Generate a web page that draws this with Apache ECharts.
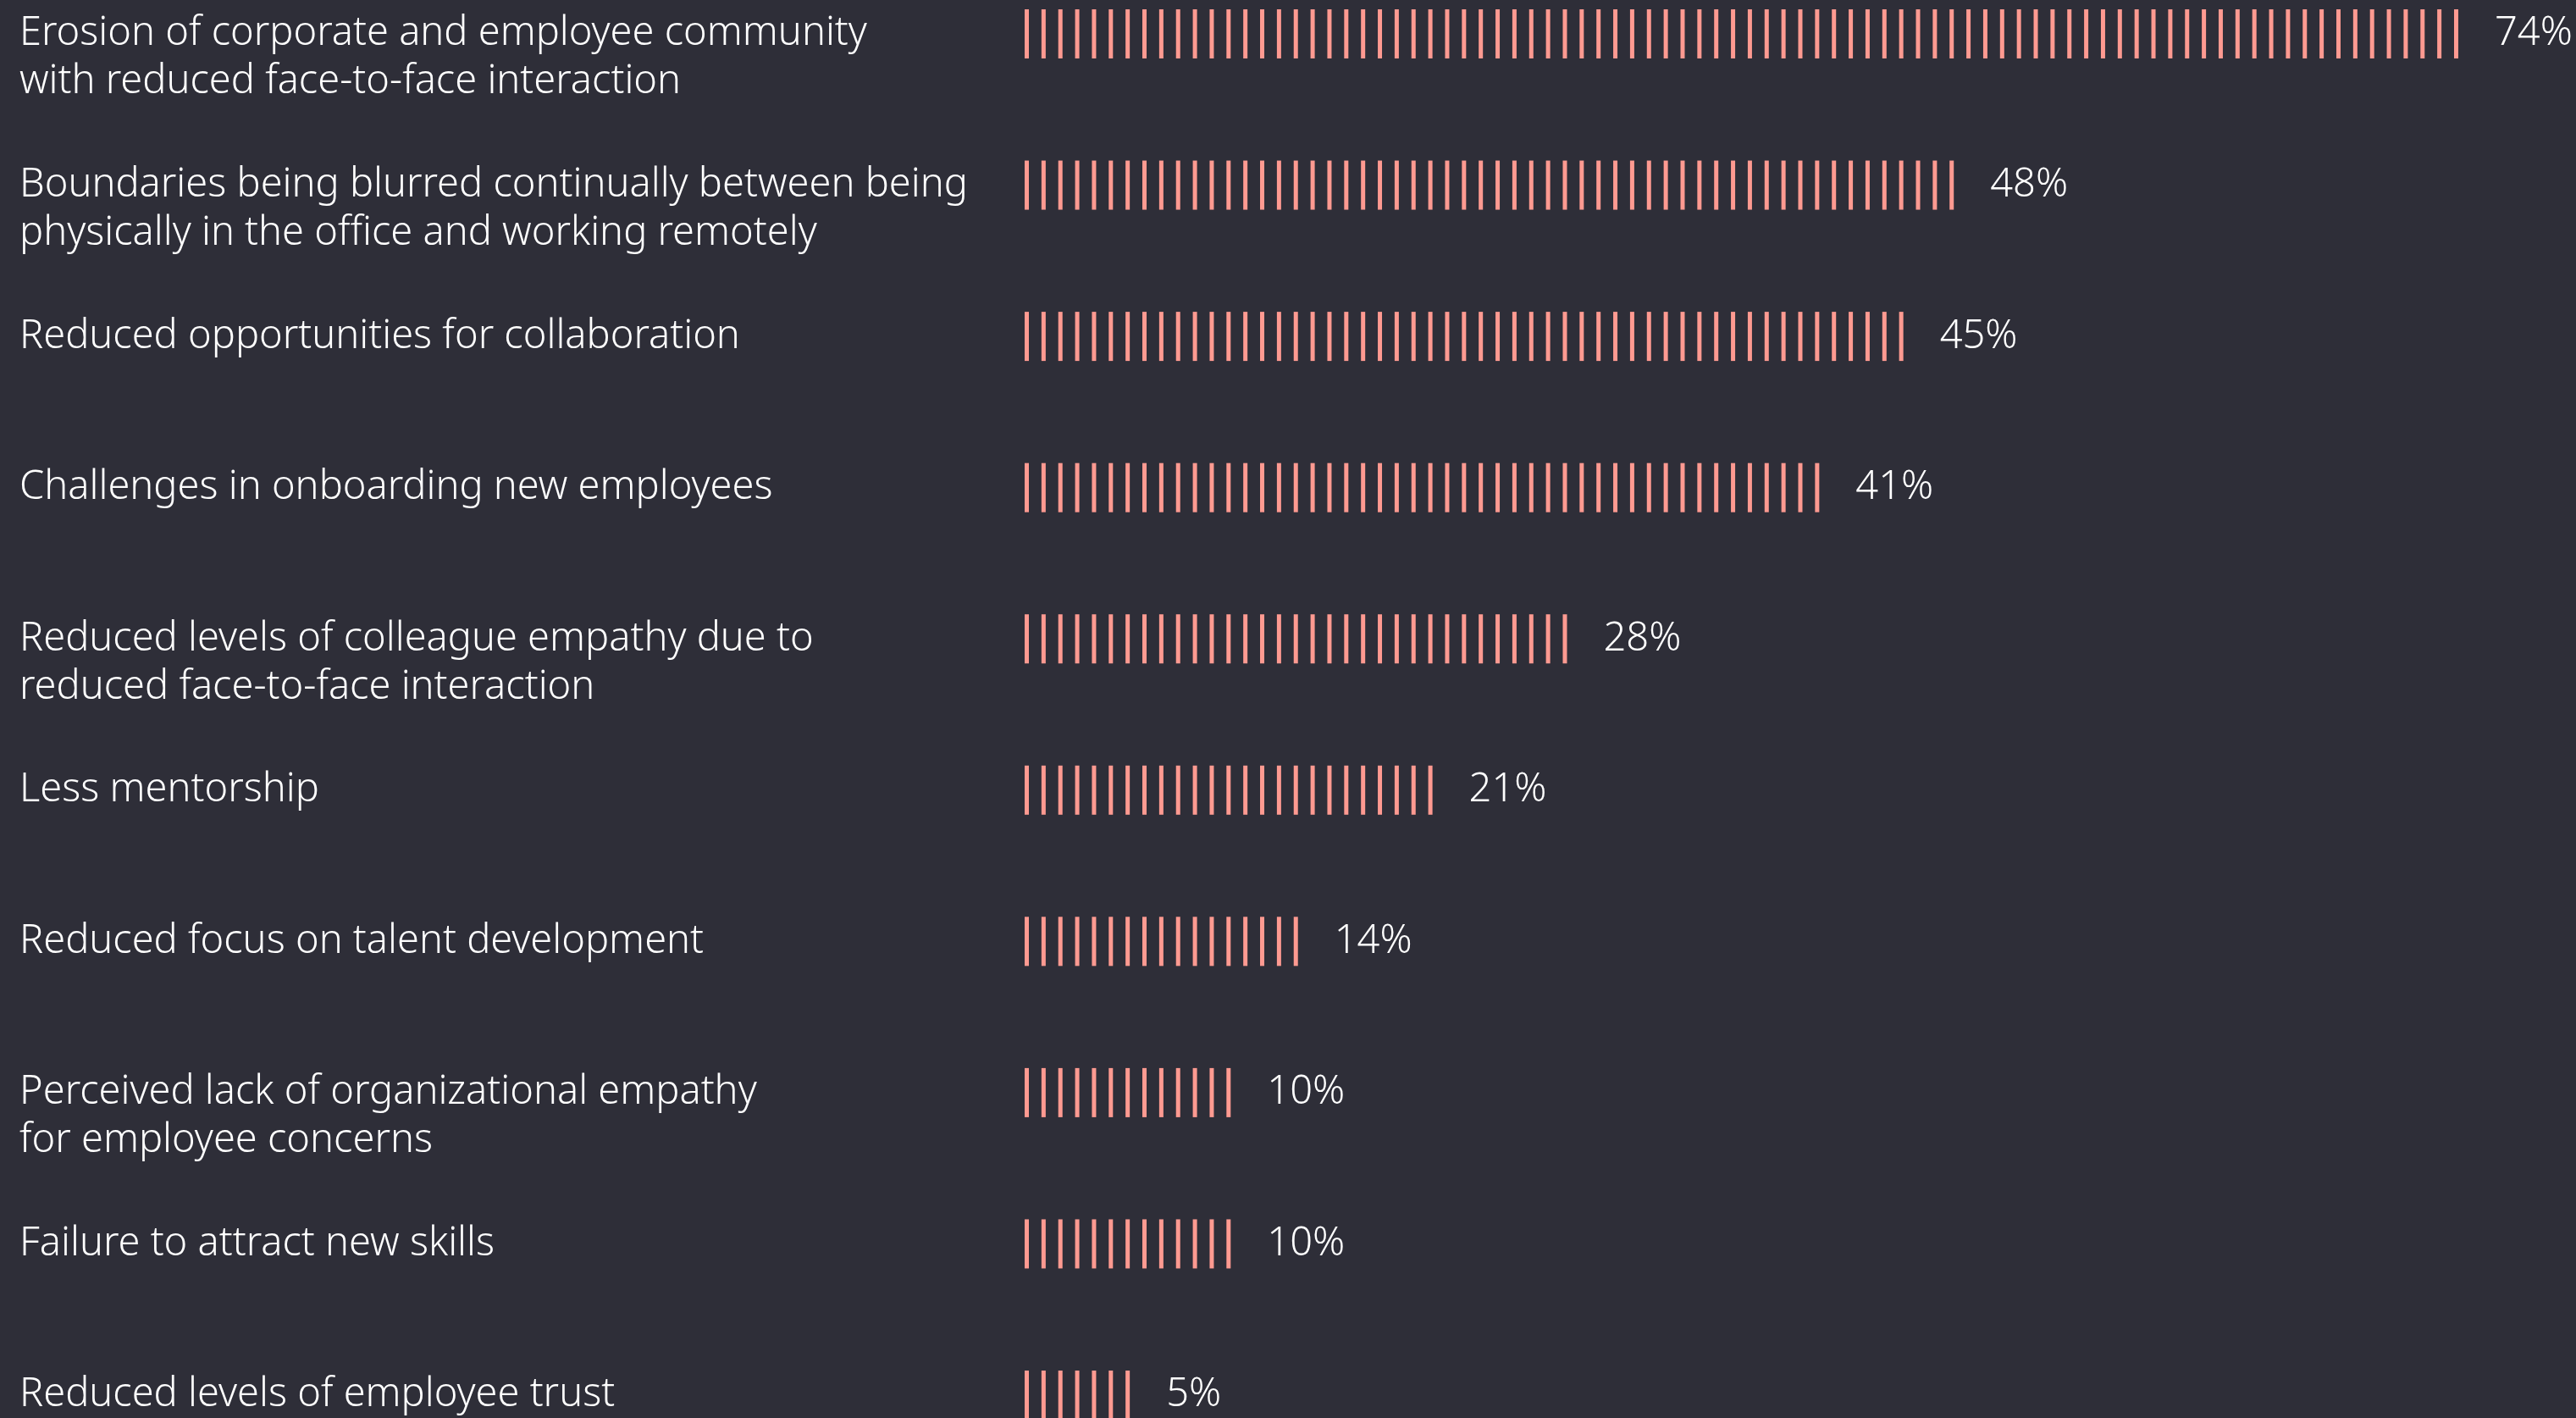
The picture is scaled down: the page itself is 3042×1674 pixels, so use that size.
<!DOCTYPE html>
<html>
<head>
<meta charset="utf-8">
<script src="https://cdn.jsdelivr.net/npm/echarts@6/dist/echarts.min.js"></script>
<style>
  html, body { margin: 0; padding: 0; background: #2E2E38; }
  #chart { width: 3042px; height: 1674px; }
</style>
</head>
<body>
<div id="chart"></div>
<script>
const categories = [
  'Erosion of corporate and employee community\nwith reduced face-to-face interaction',
  'Boundaries being blurred continually between being\nphysically in the office and working remotely',
  'Reduced opportunities for collaboration',
  'Challenges in onboarding new employees',
  'Reduced levels of colleague empathy due to\nreduced face-to-face interaction',
  'Less mentorship',
  'Reduced focus on talent development',
  'Perceived lack of organizational empathy\nfor employee concerns',
  'Failure to attract new skills',
  'Reduced levels of employee trust'
];
const values = [74, 48, 45, 41, 28, 21, 14, 10, 10, 5];

const FONT = '"Noto Sans", sans-serif';
const chart = echarts.init(document.getElementById('chart'), null, { renderer: 'canvas' });
chart.setOption({
  backgroundColor: '#2E2E38',
  animation: false,
  grid: { left: 1210, right: 0, top: 40, bottom: 27, containLabel: false, outerBoundsMode: 'none' },
  xAxis: {
    type: 'value', min: 0, max: 80.5,
    show: false
  },
  yAxis: {
    type: 'category',
    data: categories,
    inverse: true,
    boundaryGap: false,
    axisLine: { show: false },
    axisTick: { show: false },
    splitLine: { show: false },
    axisLabel: {
      align: 'left',
      margin: 1187,
      color: '#FFFFFF',
      fontFamily: FONT,
      fontWeight: 300,
      fontSize: 47,
      lineHeight: 57,
      verticalAlign: 'middle',
      formatter: function (v) {
        return v.indexOf('\n') >= 0 ? ' \n' + v : v;
      }
    }
  },
  series: [{
    type: 'pictorialBar',
    data: values,
    symbol: 'rect',
    symbolSize: [5, 58],
    symbolRepeat: true,
    symbolMargin: 7.5,
    symbolPosition: 'start',
    itemStyle: { color: '#FF9A91' },
    label: {
      show: true,
      position: 'right',
      distance: 43,
      color: '#FFFFFF',
      fontFamily: FONT,
      fontWeight: 300,
      fontSize: 47,
      formatter: '{c}%'
    }
  }]
});
</script>
</body>
</html>
